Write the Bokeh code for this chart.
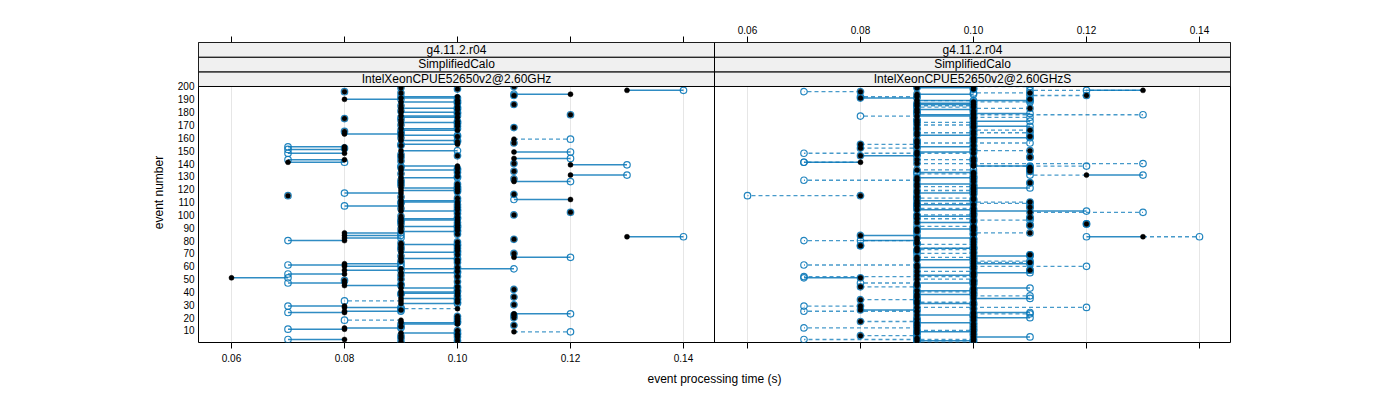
from bokeh.plotting import figure
from bokeh.models import (Range1d, LinearAxis, FixedTicker, CustomJSTickFormatter,
                          Span, ColumnDataSource)
from bokeh.core.properties import value
from bokeh.embed import file_html
from bokeh.resources import INLINE

# ---------------- data ----------------
events = list(range(1, 201))
x_ticks = [0.06, 0.08, 0.10, 0.12, 0.14]
y_ticks = list(range(10, 201, 10))
strip_left = ["g4.11.2.r04", "SimplifiedCalo", "IntelXeonCPUE52650v2@2.60GHz"]
strip_right = ["g4.11.2.r04", "SimplifiedCalo", "IntelXeonCPUE52650v2@2.60GHzS"]

# event processing time, in hundredths of a second, events 1..200
left_black = [
    9, 10, 8, 9, 10, 9, 10, 9, 11, 10, 8, 8, 9, 11, 10, 9, 10, 9, 10, 11,
    10, 11, 11, 8, 8, 9, 10, 8, 8, 11, 9, 10, 9, 10, 9, 11, 10, 9, 10, 9,
    10, 11, 9, 10, 8, 9, 8, 10, 8, 9, 6, 10, 9, 8, 9, 10, 8, 9, 10, 8,
    8, 8, 10, 9, 10, 9, 11, 9, 10, 11, 9, 10, 9, 10, 9, 10, 9, 9, 10, 8,
    11, 8, 13, 8, 10, 8, 9, 10, 9, 10, 9, 10, 9, 10, 9, 10, 9, 10, 9, 11,
    10, 12, 9, 10, 9, 10, 9, 10, 9, 10, 9, 12, 10, 9, 7, 11, 9, 10, 9, 10,
    9, 10, 9, 10, 9, 11, 9, 11, 9, 10, 12, 9, 10, 11, 9, 10, 9, 10, 12, 11,
    7, 9, 8, 11, 9, 10, 9, 8, 11, 9, 8, 8, 8, 9, 10, 11, 10, 9, 11, 9,
    10, 9, 8, 9, 8, 10, 9, 11, 10, 9, 10, 9, 10, 9, 8, 10, 9, 12, 10, 9,
    9, 10, 9, 10, 9, 11, 10, 9, 10, 8, 9, 10, 11, 12, 9, 8, 13, 10, 9, 11,
]
left_blue = [
    9, 10, 7, 9, 10, 9, 10, 10, 12, 10, 7, 9, 9, 11, 9, 10, 10, 8, 10, 11,
    10, 11, 12, 7, 9, 9, 9, 9, 7, 11, 10, 10, 8, 10, 10, 11, 10, 9, 9, 10,
    10, 11, 10, 10, 9, 9, 7, 10, 8, 9, 7, 10, 9, 7, 10, 10, 9, 11, 10, 9,
    7, 9, 10, 9, 10, 10, 12, 9, 10, 11, 10, 10, 9, 10, 9, 10, 10, 9, 10, 7,
    11, 9, 14, 9, 10, 9, 10, 10, 9, 10, 10, 10, 9, 10, 9, 9, 10, 10, 9, 11,
    10, 12, 10, 10, 9, 10, 8, 10, 9, 9, 10, 11, 10, 9, 7, 11, 8, 10, 10, 10,
    10, 10, 9, 10, 9, 12, 9, 11, 10, 10, 13, 9, 10, 11, 10, 10, 9, 9, 13, 11,
    8, 9, 7, 12, 9, 10, 9, 7, 12, 10, 7, 8, 7, 9, 9, 11, 10, 10, 12, 9,
    10, 10, 9, 9, 8, 9, 10, 11, 10, 9, 10, 10, 10, 9, 8, 9, 10, 12, 10, 10,
    9, 10, 10, 10, 9, 11, 10, 10, 10, 9, 10, 9, 11, 11, 9, 8, 14, 10, 9, 11,
]
left_dashed_events = [9, 18, 27, 33, 159]

right_black = [
    10, 9, 10, 9, 10, 8, 10, 9, 10, 9, 10, 9, 10, 9, 10, 9, 8, 10, 9, 10,
    10, 9, 10, 10, 9, 8, 10, 9, 8, 10, 9, 10, 9, 8, 10, 9, 10, 9, 10, 10,
    9, 10, 10, 8, 9, 10, 9, 10, 10, 9, 8, 10, 9, 10, 10, 9, 11, 10, 9, 10,
    9, 10, 11, 10, 9, 10, 9, 10, 11, 10, 10, 9, 10, 9, 10, 8, 10, 9, 10, 9,
    10, 9, 13, 8, 10, 11, 9, 10, 9, 10, 10, 11, 12, 9, 10, 10, 9, 11, 10, 9,
    10, 11, 10, 9, 10, 11, 9, 10, 9, 11, 9, 10, 10, 9, 8, 10, 9, 10, 9, 10,
    10, 9, 10, 9, 11, 10, 9, 10, 9, 10, 12, 10, 10, 11, 9, 11, 11, 10, 10, 9,
    8, 10, 9, 10, 11, 8, 9, 10, 9, 11, 10, 8, 9, 10, 8, 9, 10, 9, 10, 10,
    11, 9, 10, 9, 10, 11, 9, 10, 10, 9, 10, 9, 10, 9, 10, 10, 9, 10, 10, 9,
    10, 9, 11, 10, 9, 10, 9, 10, 9, 11, 8, 9, 12, 9, 11, 8, 13, 10, 9, 10,
]
right_blue_a = [
    10, 10, 10, 9, 11, 8, 10, 9, 9, 9, 10, 9, 10, 9, 10, 10, 8, 10, 9, 11,
    10, 10, 10, 11, 9, 9, 10, 9, 8, 10, 10, 10, 9, 8, 11, 9, 10, 10, 10, 10,
    10, 10, 11, 8, 9, 10, 10, 10, 10, 9, 7, 10, 10, 10, 11, 9, 11, 10, 10, 10,
    9, 11, 11, 10, 10, 10, 9, 11, 11, 10, 10, 9, 10, 10, 10, 8, 10, 9, 10, 8,
    10, 10, 12, 9, 10, 11, 9, 10, 10, 10, 10, 11, 12, 10, 10, 10, 9, 11, 9, 9,
    10, 11, 12, 10, 10, 11, 9, 9, 9, 11, 10, 10, 10, 9, 8, 10, 10, 10, 9, 10,
    11, 9, 10, 10, 11, 10, 9, 10, 10, 10, 13, 10, 9, 11, 9, 11, 11, 11, 10, 9,
    7, 10, 9, 10, 11, 9, 9, 10, 10, 11, 10, 8, 10, 10, 8, 9, 10, 9, 10, 11,
    11, 10, 10, 9, 10, 11, 9, 10, 11, 9, 10, 9, 11, 9, 10, 10, 10, 9, 11, 9,
    10, 10, 11, 10, 9, 9, 10, 10, 11, 11, 9, 9, 12, 10, 11, 8, 12, 10, 10, 9,
]
right_blue_b = [
    9, 9, 7, 9, 10, 9, 10, 9, 10, 10, 10, 7, 10, 9, 10, 9, 9, 10, 9, 10,
    10, 9, 11, 10, 7, 8, 10, 12, 7, 10, 9, 9, 9, 9, 10, 9, 11, 9, 10, 9,
    9, 10, 10, 9, 9, 10, 8, 10, 10, 10, 8, 7, 9, 10, 10, 10, 11, 10, 9, 12,
    7, 10, 10, 11, 9, 10, 10, 10, 11, 9, 10, 9, 9, 10, 10, 8, 9, 9, 10, 7,
    10, 9, 14, 8, 10, 10, 9, 10, 9, 10, 9, 11, 12, 9, 10, 11, 10, 11, 10, 10,
    10, 13, 10, 9, 9, 11, 9, 10, 11, 10, 9, 10, 9, 9, 6, 10, 9, 10, 10, 10,
    10, 10, 10, 9, 11, 10, 7, 10, 9, 10, 11, 9, 10, 11, 10, 11, 11, 12, 10, 13,
    7, 10, 10, 10, 11, 8, 9, 7, 9, 10, 10, 9, 9, 10, 9, 11, 10, 9, 10, 10,
    11, 9, 10, 11, 10, 10, 9, 10, 10, 10, 10, 10, 10, 9, 10, 11, 8, 13, 10, 9,
    10, 9, 10, 9, 10, 10, 9, 11, 10, 11, 8, 8, 11, 9, 10, 7, 11, 10, 9, 11,
]

# ---------------- geometry / style ----------------
X0 = 0.05416            # left edge of a panel (data units)
W = 516 / 5650          # panel width in data units
Y0, YP = 0.65, 200.0    # panel y limits
SH = 11.42              # strip height (data units)
Y1 = YP + 3 * SH

BLUE = "#0a78b8"
FONT = value("Liberation Sans")

p = figure(width=1392, height=392, output_backend="svg", toolbar_location=None,
           x_range=Range1d(X0, X0 + 2 * W), y_range=Range1d(Y0, Y1),
           min_border_left=198, min_border_right=162, min_border_top=42,
           min_border_bottom=50)
p.extra_x_ranges = {"right": Range1d(X0 - W, X0 + W)}
p.background_fill_color = "white"
p.border_fill_color = "white"
p.outline_line_color = "black"
p.outline_line_width = 1

all_ticks = x_ticks + [t + W for t in x_ticks]
p.xgrid.ticker = FixedTicker(ticks=all_ticks)
p.xgrid.grid_line_color = "#e6e6e6"
p.xgrid.grid_line_width = 1
p.ygrid.grid_line_color = None

# bottom axis (labels on left panel only)
xb = p.xaxis[0]
xb.ticker = FixedTicker(ticks=all_ticks)
xb.formatter = CustomJSTickFormatter(code="return tick < %f ? tick.toFixed(2) : '';" % (X0 + W))
xb.axis_label = "event processing time (s)"

# top axis (labels on right panel only)
xt = LinearAxis(x_range_name="right",
                ticker=FixedTicker(ticks=[t - W for t in x_ticks] + x_ticks),
                formatter=CustomJSTickFormatter(code="return tick > %f ? tick.toFixed(2) : '';" % X0))
p.add_layout(xt, "above")

for ax in (xb, xt):
    ax.axis_line_color = None
    ax.major_tick_out = 6
    ax.major_tick_in = 0
    ax.minor_tick_line_color = None
    ax.major_label_text_font = "Liberation Sans"
    ax.major_label_text_font_size = "10px"
    ax.major_label_text_color = "black"
    ax.major_tick_line_color = "black"
xb.major_label_standoff = 5
xt.major_label_standoff = 3
xb.axis_label_text_font = "Liberation Sans"
xb.axis_label_text_font_size = "12px"
xb.axis_label_text_font_style = "normal"
xb.axis_label_text_color = "black"
xb.axis_label_standoff = 7

ya = p.yaxis[0]
ya.ticker = FixedTicker(ticks=y_ticks)
ya.axis_line_color = None
ya.major_tick_out = 0
ya.major_tick_in = 0
ya.minor_tick_line_color = None
ya.major_label_standoff = 4
ya.major_label_text_font = "Liberation Sans"
ya.major_label_text_font_size = "10px"
ya.major_label_text_color = "black"
ya.axis_label = "event number"
ya.axis_label_text_font = "Liberation Sans"
ya.axis_label_text_font_size = "12px"
ya.axis_label_text_font_style = "normal"
ya.axis_label_text_color = "black"
ya.axis_label_standoff = 9


def draw_panel(black, blues, dashed_flags, labels, rname):
    kw = {} if rname is None else {"x_range_name": rname}
    bx = [v / 100 for v in black]
    # segments
    for blue, dflag in zip(blues, dashed_flags):
        cx = [v / 100 for v in blue]
        sol = dict(x0=[], x1=[], y=[])
        das = dict(x0=[], x1=[], y=[])
        for e, a, b in zip(events, bx, cx):
            if abs(a - b) < 1e-9:
                continue
            d = das if (dflag is True or (isinstance(dflag, list) and e in dflag)) else sol
            d["x0"].append(a)
            d["x1"].append(b)
            d["y"].append(e)
        if das["y"]:
            p.segment(x0="x0", x1="x1", y0="y", y1="y", source=ColumnDataSource(das),
                      line_color=BLUE, line_alpha=0.75, line_width=1.3,
                      line_dash="4 3", **kw)
        if sol["y"]:
            p.segment(x0="x0", x1="x1", y0="y", y1="y", source=ColumnDataSource(sol),
                      line_color=BLUE, line_alpha=0.85, line_width=1.5, **kw)
    for blue in blues:
        cx = [v / 100 for v in blue]
        p.scatter(x=cx, y=events, marker="circle", size=6.5, fill_color=None,
                  line_color=BLUE, line_width=1.2, line_alpha=0.9, **kw)
    p.scatter(x=bx, y=events, marker="circle", size=5, fill_color="black",
              line_color="black", line_width=0.5, **kw)
    # strips
    p.quad(left=[X0] * 3, right=[X0 + W] * 3,
           bottom=[YP + i * SH for i in range(3)],
           top=[YP + (i + 1) * SH for i in range(3)],
           fill_color="#f0f0f0", line_color="black", line_width=1, **kw)
    p.text(x=[X0 + W / 2] * 3, y=[YP + (i + 0.5) * SH for i in range(3)],
           text=labels[::-1], text_align="center", text_baseline="middle",
           text_font=FONT, text_font_size="12px", text_color="black", **kw)


draw_panel(left_black, [left_blue], [left_dashed_events], strip_left, None)
draw_panel(right_black, [right_blue_a, right_blue_b], [False, True], strip_right, "right")

p.add_layout(Span(location=X0 + W, dimension="height", line_color="black", line_width=1))

open("out.html", "w").write(file_html(p, INLINE))
